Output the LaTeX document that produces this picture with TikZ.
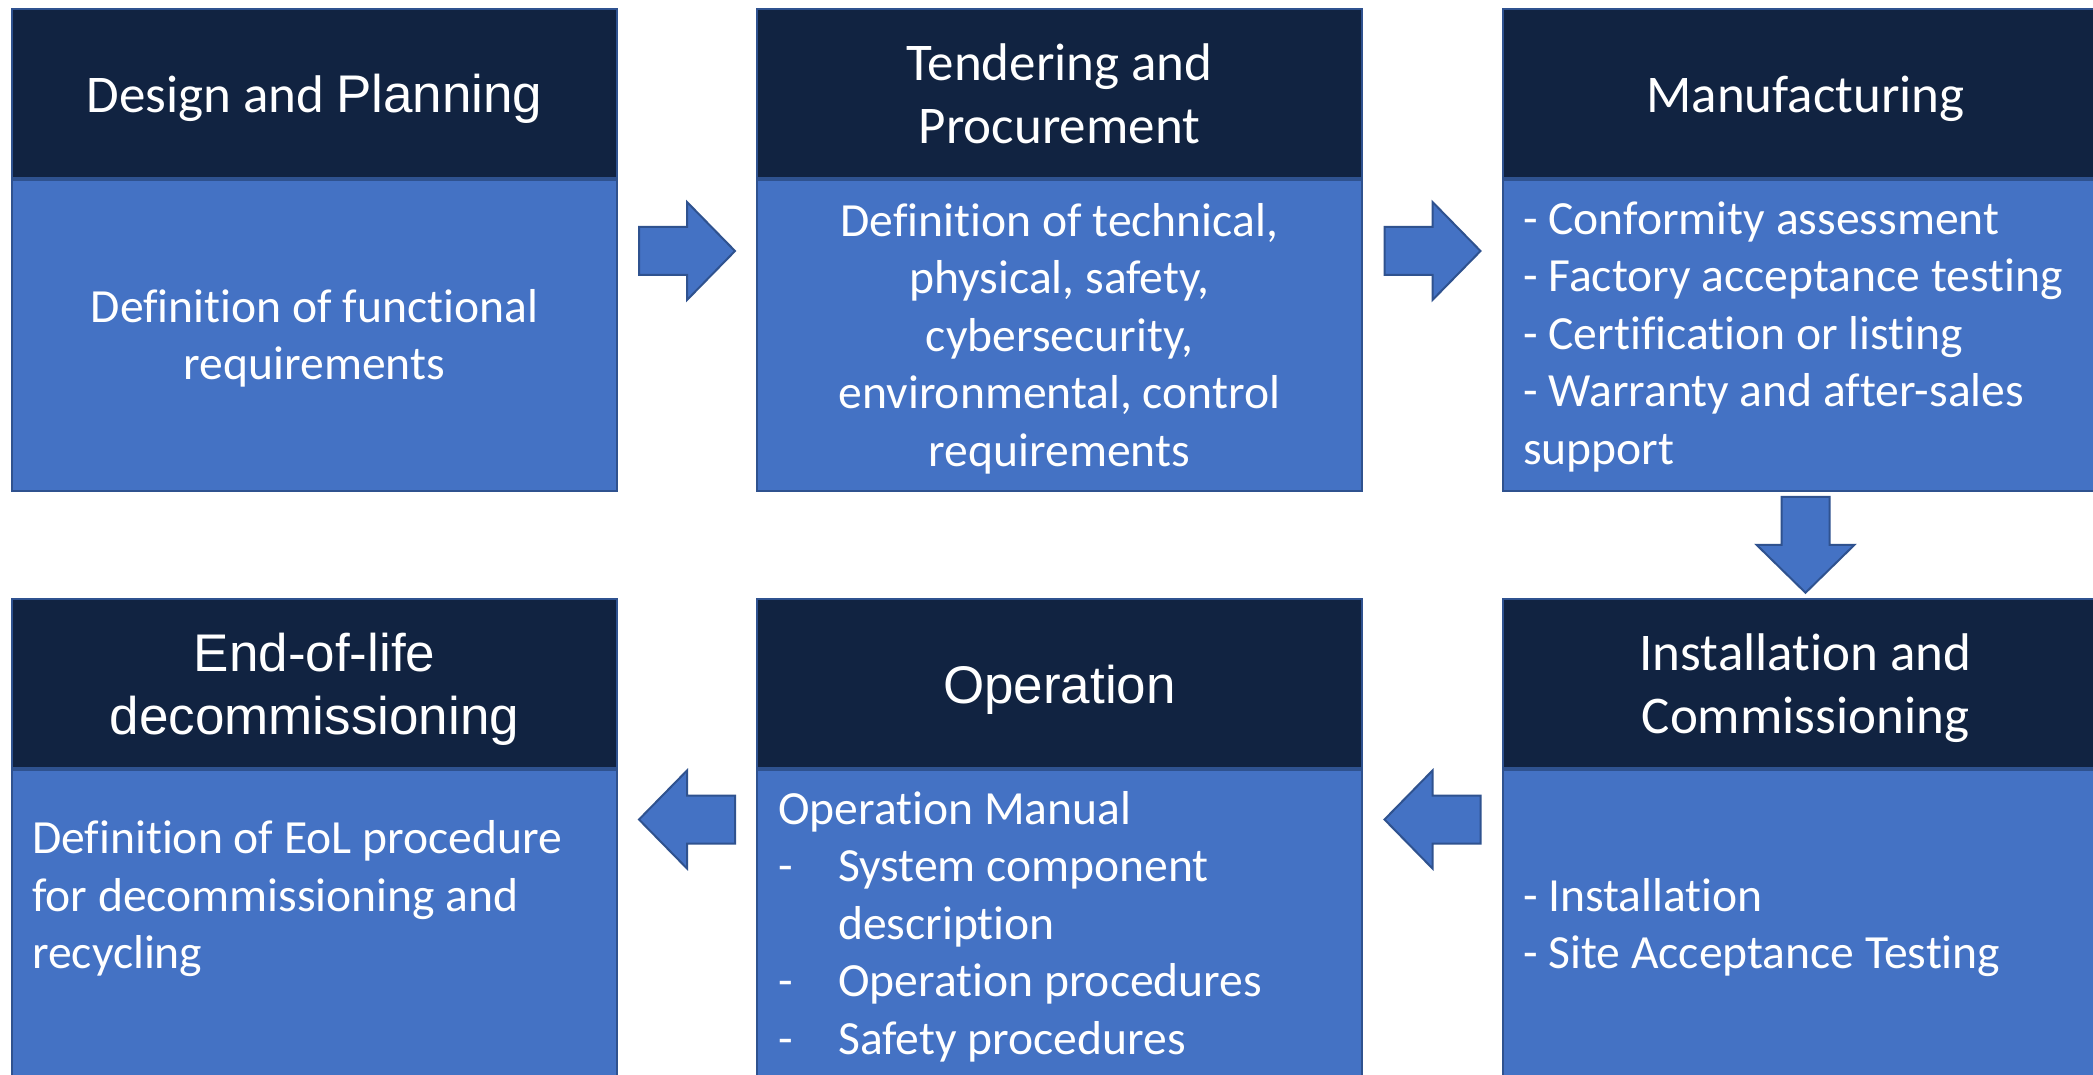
\documentclass[tikz,border=0pt]{standalone}
\usepackage{fontspec}
\setmainfont{Carlito}[Ligatures=NoCommon]
\newfontfamily\arialf{Liberation Sans}[Ligatures=NoCommon]
\usetikzlibrary{calc}
\definecolor{hdrcol}{HTML}{112341}
\definecolor{bodycol}{HTML}{4472C4}
\definecolor{edgecol}{HTML}{2F528F}
\tikzset{
 boxbase/.style={draw=edgecol, line width=2pt, minimum width=605pt, inner sep=0pt},
 hdr/.style={boxbase, fill=hdrcol, minimum height=169pt},
 bodybox/.style={boxbase, fill=bodycol, minimum height=311pt},
 hdrtext/.style={text=white, inner sep=0pt, align=center, font=\fontsize{53}{63}\selectfont},
 hdrtextarial/.style={hdrtext, font=\arialf\fontsize{53}{63}\selectfont},
 bodyctext/.style={text=white, inner sep=0pt, align=center, font=\fontsize{47.6}{57.5}\selectfont},
 bodytext/.style={text=white, inner sep=0pt, align=left, anchor=west, font=\fontsize{47.6}{57.5}\selectfont},
 barrow/.pic={\path[draw=edgecol, fill=bodycol, line width=2pt, line join=miter]
   (-48,-24) -- (0,-24) -- (0,-49) -- (48,0) -- (0,49) -- (0,24) -- (-48,24) -- cycle;}
}
\begin{document}
\begin{tikzpicture}[x=1pt,y=-1pt]
\path[use as bounding box, clip] (0,0) rectangle (2093,1075);
\fill[white] (0,0) rectangle (2093,1075);

% top row boxes
\node[hdr] (h1) at (314.5,93.5) {};
\node[bodybox, anchor=north] (b1) at (h1.south) {};
\node[hdr] (h2) at (1059.5,93.5) {};
\node[bodybox, anchor=north] (b2) at (h2.south) {};
\node[hdr] (h3) at (1805.5,93.5) {};
\node[bodybox, anchor=north] (b3) at (h3.south) {};

% bottom row boxes
\node[hdr] (h4) at (314.5,683) {};
\node[bodybox, anchor=north] (b4) at (h4.south) {};
\node[hdr] (h5) at (1059.5,683) {};
\node[bodybox, anchor=north] (b5) at (h5.south) {};
\node[hdr] (h6) at (1805.5,683) {};
\node[bodybox, anchor=north] (b6) at (h6.south) {};

% header texts
\node[hdrtext] (l1) at ($(h1.center)+(0,6)$) {\strut Design and {\arialf Planning}};
\node[hdrtext] (l2) at ($(h2.center)+(0,6)$) {\strut Tendering and\\\strut Procurement};
\node[hdrtext] (l3) at ($(h3.center)+(0,6)$) {\strut Manufacturing};
\node[hdrtextarial] (l4) at ($(h4.center)+(0,7.5)$) {\strut End-of-life\\\strut decommissioning};
\node[hdrtextarial] (l5) at ($(h5.center)+(0,7.5)$) {\strut Operation};
\node[hdrtext] (l6) at ($(h6.center)+(0,6)$) {\strut Installation and\\\strut Commissioning};

% body texts
\node[bodyctext] (t1) at ($(b1.center)+(0,4)$) {\strut Definition of functional\\\strut requirements};
\node[bodyctext] (t2) at ($(b2.center)+(0,4)$) {\strut Definition of technical,\\\strut physical, safety,\\\strut cybersecurity,\\\strut environmental, control\\\strut requirements};
\node[bodytext] (t3) at (1523,337.5) {\strut - Conformity assessment\\\strut - Factory acceptance testing\\\strut - Certification or listing\\\strut - Warranty and after-sales\\\strut support};
\node[bodytext] (t4) at (32,899.5) {\strut Definition of EoL procedure\\\strut for decommissioning and\\\strut recycling};
\node[bodytext] (t5) at (778,927.5) {\strut Operation Manual\\\strut\makebox[60pt][l]{-}System component\\\strut\hspace*{60pt}description\\\strut\makebox[60pt][l]{-}Operation procedures\\\strut\makebox[60pt][l]{-}Safety procedures};
\node[bodytext] (t6) at (1523,928.5) {\strut - Installation\\\strut - Site Acceptance Testing};

% block arrows
\pic at ($(b1.north east)!0.5!(b2.north west)+(0,72)$) {barrow};
\pic at ($(b2.north east)!0.5!(b3.north west)+(0,72)$) {barrow};
\pic[rotate=-90] at ($(b3.south)!0.5!(h6.north)$) {barrow};
\pic[rotate=180] at ($(b6.north west)!0.5!(b5.north east)+(0,51)$) {barrow};
\pic[rotate=180] at ($(b5.north west)!0.5!(b4.north east)+(0,51)$) {barrow};
\end{tikzpicture}
\end{document}
